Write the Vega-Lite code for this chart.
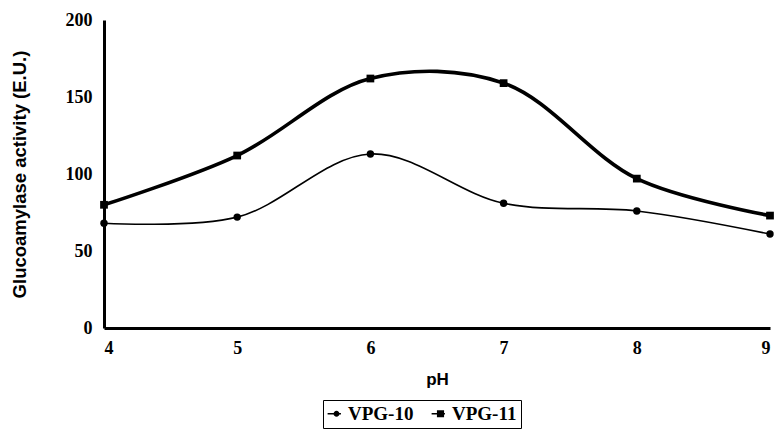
{
  "$schema": "https://vega.github.io/schema/vega-lite/v6.json",
  "width": 666,
  "height": 308,
  "autosize": {"type": "none"},
  "padding": {"left": 104, "top": 20, "right": 4, "bottom": 102},
  "background": "white",
  "config": {
    "view": {"stroke": null},
    "axis": {
      "grid": false,
      "ticks": false,
      "domainColor": "black",
      "domainWidth": 3,
      "labelColor": "black",
      "titleColor": "black",
      "labelFont": "Liberation Serif",
      "labelFontWeight": "bold",
      "labelFontSize": 18,
      "titleFont": "Liberation Sans",
      "titleFontWeight": "bold",
      "titleFontSize": 17
    }
  },
  "data": {
    "values": [
      {"pH": 4, "series": "VPG-10", "activity": 68},
      {"pH": 5, "series": "VPG-10", "activity": 72},
      {"pH": 6, "series": "VPG-10", "activity": 113},
      {"pH": 7, "series": "VPG-10", "activity": 81},
      {"pH": 8, "series": "VPG-10", "activity": 76},
      {"pH": 9, "series": "VPG-10", "activity": 61},
      {"pH": 4, "series": "VPG-11", "activity": 80},
      {"pH": 5, "series": "VPG-11", "activity": 112},
      {"pH": 6, "series": "VPG-11", "activity": 162},
      {"pH": 7, "series": "VPG-11", "activity": 159},
      {"pH": 8, "series": "VPG-11", "activity": 97},
      {"pH": 9, "series": "VPG-11", "activity": 73}
    ]
  },
  "encoding": {
    "x": {
      "field": "pH",
      "type": "quantitative",
      "scale": {"domain": [4, 9], "nice": false},
      "axis": {"values": [4, 5, 6, 7, 8, 9], "title": "pH", "labelPadding": 11, "titlePadding": 14}
    },
    "y": {
      "field": "activity",
      "type": "quantitative",
      "scale": {"domain": [0, 200], "nice": false},
      "axis": {"values": [0, 50, 100, 150, 200], "title": "Glucoamylase activity (E.U.)", "titleFontSize": 18.5, "labelPadding": 12, "titlePadding": 36}
    }
  },
  "layer": [
    {
      "transform": [{"filter": "datum.series === 'VPG-10'"}],
      "mark": {"type": "line", "interpolate": "catmull-rom", "color": "black", "strokeWidth": 1.6},
      "encoding": {}
    },
    {
      "transform": [{"filter": "datum.series === 'VPG-11'"}],
      "mark": {"type": "line", "interpolate": "catmull-rom", "color": "black", "strokeWidth": 3.6},
      "encoding": {}
    },
    {
      "transform": [{"filter": "datum.series === 'VPG-10'"}],
      "mark": {"type": "point", "shape": "circle", "filled": true, "color": "black", "opacity": 1, "size": 55},
      "encoding": {}
    },
    {
      "transform": [{"filter": "datum.series === 'VPG-11'"}],
      "mark": {"type": "point", "shape": "square", "filled": true, "color": "black", "opacity": 1, "size": 60},
      "encoding": {}
    },
    {
      "mark": {"type": "point", "filled": false, "fill": "black", "stroke": "black", "strokeWidth": 1.5, "opacity": 0, "size": 220},
      "encoding": {
        "shape": {
          "field": "series",
          "type": "nominal",
          "scale": {
            "domain": ["VPG-10", "VPG-11"],
            "range": [
              "M-1.2,0H0.6M-0.3,0A0.3,0.3,0,1,1,0.3,0A0.3,0.3,0,1,1,-0.3,0Z",
              "M-1.2,0H0.6M-0.38,-0.38H0.38V0.38H-0.38Z"
            ]
          },
          "legend": {
            "title": null,
            "orient": "none",
            "legendX": 219,
            "legendY": 380,
            "direction": "horizontal",
            "strokeColor": "black",
            "padding": 4,
            "labelFont": "Liberation Serif",
            "labelFontWeight": "bold",
            "labelFontSize": 19,
            "labelColor": "black",
            "labelOffset": 2,
            "symbolSize": 220,
            "symbolStrokeWidth": 1.5,
            "columnPadding": 14,
            "encode": {
              "symbols": {
                "update": {
                  "fill": {"value": "black"},
                  "stroke": {"value": "black"},
                  "fillOpacity": {"value": 1},
                  "strokeOpacity": {"value": 1},
                  "opacity": {"value": 1},
                  "strokeWidth": {"value": 1.5}
                }
              }
            }
          }
        }
      }
    }
  ]
}
